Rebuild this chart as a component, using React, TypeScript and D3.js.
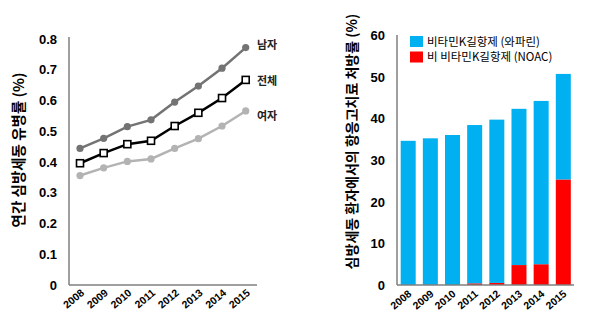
import React from "react";
import * as d3 from "d3";

const years = ["2008", "2009", "2010", "2011", "2012", "2013", "2014", "2015"];
const male = [0.444, 0.477, 0.515, 0.537, 0.595, 0.647, 0.705, 0.772];
const total = [0.396, 0.429, 0.458, 0.469, 0.517, 0.56, 0.608, 0.667];
const female = [0.356, 0.381, 0.402, 0.41, 0.444, 0.476, 0.517, 0.566];
const leftTicks = [0, 0.1, 0.2, 0.3, 0.4, 0.5, 0.6, 0.7, 0.8];

const warfarin = [34.7, 35.3, 36.1, 38.1, 39.3, 37.6, 39.3, 25.4];
const noac = [0, 0, 0, 0.4, 0.5, 4.8, 5.0, 25.4];
const rightTicks = [0, 10, 20, 30, 40, 50, 60];

const leftTitle = "연간 심방세동 유병률 (%)";
const rightTitle = "심방세동 환자에서의 항응고치료 처방률 (%)";
const lineLabels = ["남자", "전체", "여자"];
const legendLabels = ["비타민K길항제 (와파린)", "비 비타민K길항제 (NOAC)"];

const FONT = "'Liberation Sans', Arial, 'Noto Sans CJK KR', sans-serif";
const KFONT = "'Noto Sans CJK KR', 'Liberation Sans', sans-serif";
const AXIS = "#7f7f7f";

export default function App() {
  // left chart
  const xL = d3.scalePoint<string>().domain(years).range([80, 245.7]);
  const yL = d3.scaleLinear().domain([0, 0.8]).range([285, 39]);
  const line = d3
    .line<number>()
    .x((_, i) => xL(years[i]) as number)
    .y((d) => yL(d));

  const series = [
    { data: male, color: "#737373", marker: "circle", label: lineLabels[0] },
    { data: total, color: "#000000", marker: "square", label: lineLabels[1] },
    { data: female, color: "#b3b3b3", marker: "circle", label: lineLabels[2] },
  ];

  // right chart
  const xR = d3
    .scaleBand<string>()
    .domain(years)
    .range([397.7, 573.8])
    .paddingInner(0.323)
    .paddingOuter(0.135);
  const yR = d3.scaleLinear().domain([0, 60]).range([285, 35.7]);
  const table = years.map((y, i) => ({ year: y, noac: noac[i], warfarin: warfarin[i] }));
  const stack = d3.stack<any>().keys(["noac", "warfarin"])(table);
  const colors: Record<string, string> = { noac: "#ff0000", warfarin: "#00b0f0" };

  return (
    <svg width={602} height={327} style={{ position: "absolute", left: 0, top: 0 }}>
      <rect width={602} height={327} fill="#fff" />
      {/* LEFT CHART */}
      <g>
        {leftTicks.map((t) => (
          <text
            key={t}
            x={57}
            y={yL(t)}
            dy="0.36em"
            textAnchor="end"
            fontFamily={FONT}
            fontWeight="bold"
            fontSize={13}
            fill="#000"
          >
            {t === 0 ? "0" : t.toFixed(1)}
          </text>
        ))}
        <text
          transform={`translate(23.5,150) rotate(-90)`}
          textAnchor="middle"
          fontFamily={KFONT}
          fontWeight="bold"
          fontSize={14.5}
          fill="#000"
        >
          {leftTitle}
        </text>
        {series.map((s) => (
          <g key={s.label}>
            <path d={line(s.data) as string} fill="none" stroke={s.color} strokeWidth={2.5} />
            {s.data.map((v, i) =>
              s.marker === "circle" ? (
                <circle key={i} cx={xL(years[i])} cy={yL(v)} r={3.6} fill={s.color} />
              ) : (
                <rect
                  key={i}
                  x={(xL(years[i]) as number) - 3.5}
                  y={yL(v) - 3.5}
                  width={7}
                  height={7}
                  fill="#fff"
                  stroke="#000"
                  strokeWidth={1.6}
                />
              )
            )}
            <text
              x={257}
              y={yL(s.data[s.data.length - 1]) + (s.label === "남자" ? -3 : s.label === "여자" ? 5 : 1.5)}
              dy="0.36em"
              fontFamily={KFONT}
              fontWeight="bold"
              fontSize={11}
              fill="#222"
            >
              {s.label}
            </text>
          </g>
        ))}
        <line x1={69} y1={37} x2={69} y2={285} stroke={AXIS} strokeWidth={1.5} />
        <line x1={69} y1={285} x2={257} y2={285} stroke={AXIS} strokeWidth={1.5} />
        {years.map((y) => (
          <text
            key={y}
            transform={`translate(${(xL(y) as number) + 5},${294}) rotate(-40)`}
            textAnchor="end"
            fontFamily={FONT}
            fontWeight="bold"
            fontSize={10.5}
            fill="#000"
          >
            {y}
          </text>
        ))}
      </g>

      {/* RIGHT CHART */}
      <g>
        {rightTicks.map((t) => (
          <text
            key={t}
            x={385}
            y={yR(t)}
            dy="0.36em"
            textAnchor="end"
            fontFamily={FONT}
            fontWeight="bold"
            fontSize={13}
            fill="#000"
          >
            {t}
          </text>
        ))}
        <text
          transform={`translate(356.5,141.5) rotate(-90)`}
          textAnchor="middle"
          fontFamily={KFONT}
          fontWeight="bold"
          fontSize={14}
          fill="#000"
        >
          {rightTitle}
        </text>
        {stack.map((layer) =>
          layer.map((d, i) => (
            <rect
              key={layer.key + i}
              x={xR(years[i])}
              y={yR(d[1])}
              width={xR.bandwidth()}
              height={Math.max(0, yR(d[0]) - yR(d[1]))}
              fill={colors[layer.key]}
            />
          ))
        )}
        <line x1={397} y1={35} x2={397} y2={285} stroke={AXIS} strokeWidth={1.5} />
        <line x1={397} y1={285} x2={574} y2={285} stroke={AXIS} strokeWidth={1.5} />
        {years.map((y) => (
          <text
            key={y}
            transform={`translate(${(xR(y) as number) + xR.bandwidth() / 2 + 4},${295}) rotate(-40)`}
            textAnchor="end"
            fontFamily={FONT}
            fontWeight="bold"
            fontSize={10.5}
            fill="#000"
          >
            {y}
          </text>
        ))}
        {["warfarin", "noac"].map((k, i) => (
          <g key={k}>
            <rect x={410} y={36 + i * 15.5} width={13} height={11} fill={colors[k]} />
            <text
              x={427}
              y={41.5 + i * 15.5}
              dy="0.36em"
              fontFamily={KFONT}
              fontSize={11.5}
              fill="#000"
            >
              {legendLabels[i]}
            </text>
          </g>
        ))}
      </g>
    </svg>
  );
}
